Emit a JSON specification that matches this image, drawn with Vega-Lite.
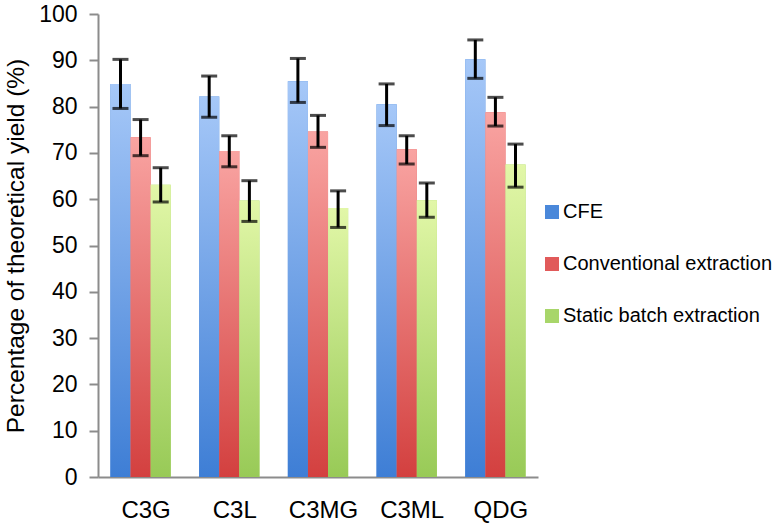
{
  "$schema": "https://vega.github.io/schema/vega-lite/v6.json",
  "width": 440,
  "height": 463,
  "autosize": {"type": "none"},
  "padding": {"left": 98, "top": 14, "right": 235, "bottom": 49},
  "background": "white",
  "config": {
    "view": {"stroke": null},
    "font": "Liberation Sans"
  },
  "data": {
    "values": [
      {"group": "C3G", "series": "CFE", "value": 84.9, "lo": 79.6, "hi": 90.2},
      {"group": "C3G", "series": "Conventional extraction", "value": 73.4, "lo": 69.4, "hi": 77.2},
      {"group": "C3G", "series": "Static batch extraction", "value": 63.1, "lo": 59.4, "hi": 66.8},
      {"group": "C3L", "series": "CFE", "value": 82.2, "lo": 77.7, "hi": 86.6},
      {"group": "C3L", "series": "Conventional extraction", "value": 70.4, "lo": 67.0, "hi": 73.7},
      {"group": "C3L", "series": "Static batch extraction", "value": 59.7, "lo": 55.2, "hi": 64.0},
      {"group": "C3MG", "series": "CFE", "value": 85.5, "lo": 80.9, "hi": 90.4},
      {"group": "C3MG", "series": "Conventional extraction", "value": 74.6, "lo": 71.2, "hi": 78.1},
      {"group": "C3MG", "series": "Static batch extraction", "value": 58.1, "lo": 53.9, "hi": 61.8},
      {"group": "C3ML", "series": "CFE", "value": 80.5, "lo": 75.9, "hi": 84.9},
      {"group": "C3ML", "series": "Conventional extraction", "value": 70.8, "lo": 67.6, "hi": 73.7},
      {"group": "C3ML", "series": "Static batch extraction", "value": 59.8, "lo": 56.1, "hi": 63.5},
      {"group": "QDG", "series": "CFE", "value": 90.2, "lo": 86.1, "hi": 94.4},
      {"group": "QDG", "series": "Conventional extraction", "value": 78.8, "lo": 75.8, "hi": 82.0},
      {"group": "QDG", "series": "Static batch extraction", "value": 67.5, "lo": 62.6, "hi": 71.9}
    ]
  },
  "encoding": {
    "x": {
      "field": "group",
      "type": "nominal",
      "sort": ["C3G", "C3L", "C3MG", "C3ML", "QDG"],
      "scale": {"paddingInner": 0.32, "paddingOuter": 0.14},
      "axis": {
        "title": null,
        "labelAngle": 0,
        "labelFontSize": 24,
        "labelColor": "black",
        "labelPadding": 21,
        "labelOffset": 5.5,
        "ticks": false,
        "domainColor": "#8c8c8c",
        "domainWidth": 2
      }
    },
    "xOffset": {
      "field": "series",
      "type": "nominal",
      "scale": {"domain": ["CFE", "Conventional extraction", "Static batch extraction"]}
    }
  },
  "layer": [
    {
      "mark": {"type": "bar"},
      "encoding": {
        "y": {
          "field": "value",
          "type": "quantitative",
          "scale": {"domain": [0, 100]},
          "axis": {
            "title": "Percentage of theoretical yield (%)",
            "titleFontSize": 24.5,
            "titleFontWeight": "normal",
            "titleColor": "black",
            "titlePadding": 10,
            "values": [0, 10, 20, 30, 40, 50, 60, 70, 80, 90, 100],
            "grid": false,
            "labelFontSize": 23,
            "labelColor": "black",
            "labelPadding": 12,
            "tickSize": 9,
            "tickColor": "#8c8c8c",
            "tickWidth": 2,
            "domainColor": "#8c8c8c",
            "domainWidth": 2
          }
        },
        "color": {
          "field": "series",
          "type": "nominal",
          "scale": {
            "domain": ["CFE", "Conventional extraction", "Static batch extraction"],
            "range": ["#4a88da", "#e15a5a", "#a8d66a"]
          },
          "legend": {
            "title": null,
            "orient": "none",
            "legendX": 444,
            "legendY": 188,
            "padding": 0,
            "symbolType": "square",
            "symbolSize": 196,
            "symbolStrokeWidth": 0,
            "symbolOpacity": 1,
            "labelFontSize": 20,
            "labelColor": "black",
            "labelOffset": 1,
            "rowPadding": 32,
            "labelLimit": 300
          }
        }
      }
    },
    {
      "transform": [{"filter": "datum.series === 'CFE'"}],
      "mark": {"type": "bar", "color": {"gradient": "linear", "x1": 0, "y1": 1, "x2": 0, "y2": 0, "stops": [{"offset": 0, "color": "#3e7ed5"}, {"offset": 1, "color": "#a6c8f8"}]}},
      "encoding": {"y": {"field": "value", "type": "quantitative"}}
    },
    {
      "transform": [{"filter": "datum.series === 'Conventional extraction'"}],
      "mark": {"type": "bar", "color": {"gradient": "linear", "x1": 0, "y1": 1, "x2": 0, "y2": 0, "stops": [{"offset": 0, "color": "#d3403f"}, {"offset": 1, "color": "#f9a4a2"}]}},
      "encoding": {"y": {"field": "value", "type": "quantitative"}}
    },
    {
      "transform": [{"filter": "datum.series === 'Static batch extraction'"}],
      "mark": {"type": "bar", "color": {"gradient": "linear", "x1": 0, "y1": 1, "x2": 0, "y2": 0, "stops": [{"offset": 0, "color": "#98ca57"}, {"offset": 1, "color": "#e2f7a8"}]}},
      "encoding": {"y": {"field": "value", "type": "quantitative"}}
    },
    {
      "mark": {"type": "rule", "color": "black", "strokeWidth": 3},
      "encoding": {
        "y": {"field": "lo", "type": "quantitative"},
        "y2": {"field": "hi"}
      }
    },
    {
      "mark": {"type": "tick", "color": "black", "thickness": 3, "size": 16, "orient": "horizontal"},
      "encoding": {
        "y": {"field": "lo", "type": "quantitative"}
      }
    },
    {
      "mark": {"type": "tick", "color": "black", "thickness": 3, "size": 16, "orient": "horizontal"},
      "encoding": {
        "y": {"field": "hi", "type": "quantitative"}
      }
    }
  ]
}
